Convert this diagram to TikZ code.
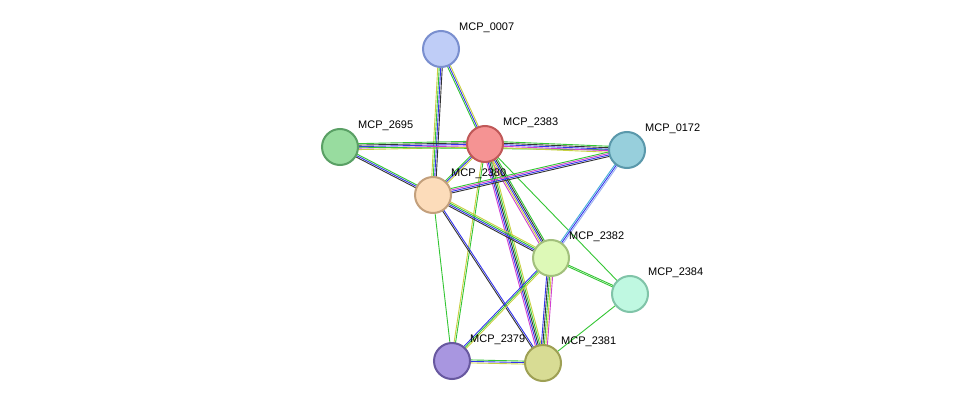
\documentclass[tikz,border=0pt]{standalone}
\usepackage{fontspec}
\setmainfont{Liberation Sans}
\usetikzlibrary{calc}
\definecolor{eG}{HTML}{33C633}
\definecolor{eY}{HTML}{C8D040}
\definecolor{eB}{HTML}{3333EE}
\definecolor{eK}{HTML}{333333}
\definecolor{eM}{HTML}{D040D0}
\definecolor{eC}{HTML}{44B0D8}
\definecolor{eL}{HTML}{9AB0F0}
\newcommand\medge[3]{%
 \foreach \c [count=\i] in {#3}{%
  \pgfmathsetmacro\o{(\i-(\n+1)/2)*1.5}%
  \draw[\c, line width=0.9pt] ($(#1)!\o pt!90:(#2)$) -- ($(#2)!\o pt!-90:(#1)$);
 }}
\newcommand\medgeN[4]{\def\n{#3}\medge{#1}{#2}{#4}}
\begin{document}
\begin{tikzpicture}[x=1pt,y=-1pt,
 prot/.style={circle,minimum size=36pt,inner sep=0pt,line width=2pt},
 lab/.style={anchor=west,font=\fontsize{11}{13}\selectfont,inner sep=0pt}]
\useasboundingbox (0,0) rectangle (975,409);
\fill[white] (0,0) rectangle (975,409);
\coordinate (p0007) at (441,49);
\coordinate (p2383) at (485,144);
\coordinate (p2695) at (340,147);
\coordinate (p0172) at (627,150);
\coordinate (p2380) at (433,195);
\coordinate (p2382) at (551,258);
\coordinate (p2384) at (630,294);
\coordinate (p2379) at (452,361);
\coordinate (p2381) at (543,363);
\medgeN{p0007}{p2383}{3}{eG,eB,eY}
\medgeN{p0007}{p2380}{4}{eY,eG,eB,eK}
\medgeN{p2695}{p2383}{5}{eY,eM,eB,eK,eG}
\medgeN{p2695}{p2380}{3}{eK,eB,eG}
\medgeN{p2695}{p0172}{1}{eG}
\medgeN{p2383}{p0172}{5}{eY,eM,eB,eK,eG}
\medgeN{p2383}{p2380}{3}{eG,eB,eY}
\medgeN{p2383}{p2382}{5}{eM,eY,eB,eK,eG}
\medgeN{p2383}{p2381}{5}{eM,eB,eK,eG,eY}
\medgeN{p2383}{p2379}{2}{eY,eG}
\medgeN{p2383}{p2384}{1}{eG}
\medgeN{p2380}{p0172}{4}{eK,eB,eM,eG}
\medgeN{p2380}{p2382}{4}{eK,eB,eG,eY}
\medgeN{p2380}{p2381}{2}{eK,eB}
\medgeN{p2380}{p2379}{1}{eG}
\medgeN{p0172}{p2382}{3}{eC,eB,eL}
\medgeN{p2382}{p2384}{2}{eG,eG}
\medgeN{p2382}{p2379}{3}{eB,eG,eY}
\medgeN{p2382}{p2381}{5}{eB,eK,eG,eY,eM}
\medgeN{p2379}{p2381}{3}{eY,eB,eG}
\medgeN{p2381}{p2384}{1}{eG}
\foreach \id/\f/\d in {0007/BFCDF7/7A8FCF,2383/F59393/C05858,2695/98DC9F/5AA065,0172/97CFDC/5A98AB,2380/FCDCBA/C3A07C,2382/DDF9B7/A2C07C,2384/BFF8E1/80C4A8,2379/A896E0/6858A0,2381/D8DC94/9EA054}{
  \definecolor{f\id}{HTML}{\f}\definecolor{d\id}{HTML}{\d}
  \node[prot,fill=f\id,draw=d\id] (n\id) at (p\id) {};
  \node[lab] (l\id) at ($(p\id)+(18,-21)$) {MCP\_\id};
}
\end{tikzpicture}
\end{document}
